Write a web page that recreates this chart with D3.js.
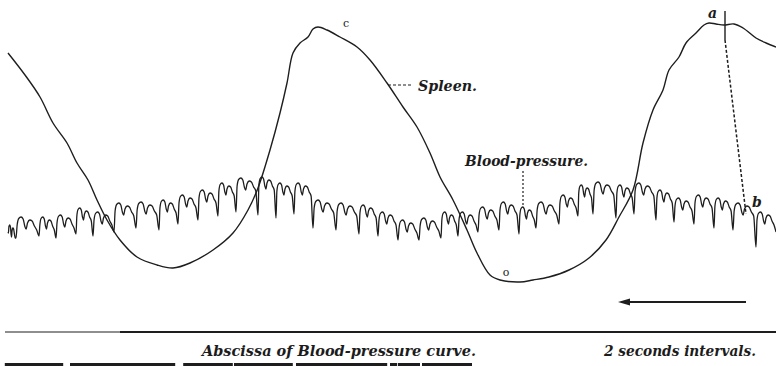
<!DOCTYPE html>
<html>
<head>
<meta charset="utf-8">
<script src="https://cdn.jsdelivr.net/npm/d3@7/dist/d3.min.js"></script>
<style>
  html, body { margin: 0; padding: 0; background: #fff; }
  svg { display: block; }
  .lbl { font-family: "DejaVu Serif", "Liberation Serif", serif; font-style: italic; font-weight: bold; fill: #1c1c1c; }
</style>
</head>
<body>
<svg id="chart" width="776" height="366"></svg>
<script>
// ---- Spleen volume tracing: time (s) and volume (arbitrary units)
const spleenTime = [0.20,0.625,1.00,1.325,1.675,1.925,2.20,2.425,2.675,3.00,3.425,3.925,4.325,4.75,5.325,5.825,6.20,6.45,6.75,7.00,7.175,7.325,7.50,7.70,7.825,7.95,8.175,8.50,8.925,9.25,9.675,10.075,10.425,10.75,11.0,11.325,11.675,11.925,12.25,12.5,13.0,13.325,13.725,14.225,14.725,15.15,15.475,15.825,16.075,16.325,16.575,16.725,16.975,17.15,17.40,17.60,17.725,17.90,18.10,18.35,18.575,18.90,19.15,19.40];
const spleenVolume = [24.7,22.5,20.3,17.7,15.7,13.7,12.0,10.0,8.0,6.0,4.3,3.5,3.2,3.7,5.0,6.7,9.0,11.2,15.0,18.7,21.7,24.7,25.7,26.3,27.1,27.3,27.0,26.3,25.3,24.0,21.7,19.3,17.3,14.7,12.3,10.0,7.0,4.7,2.5,2.0,1.8,2.0,2.3,3.0,4.2,6.0,8.3,11.0,15.7,19.0,21.0,23.0,24.3,25.7,26.7,27.5,27.7,27.6,27.5,27.6,27.2,26.2,25.7,25.3];

// ---- Blood-pressure tracing: one entry per heart beat
// beatTime: onset of each beat (foot of the upstroke), s
// beatPeak: systolic crest, beatFoot: lowest point before the upstroke
const beatTime = [0.20,0.40,0.975,1.40,1.90,2.325,2.85,3.40,3.975,4.45,4.95,5.45,5.90,6.45,6.90,7.35,7.825,8.40,8.975,9.45,9.95,10.475,11.025,11.45,11.95,12.475,12.975,13.40,13.975,14.45,14.825,15.40,15.85,16.40,16.85,17.35,17.85,18.325,18.90,19.40];
const beatPeak = [75,83,83,85,92,88,97,98,100,105,110,117,122,123,117,117,100,97,95,88,80,82,88,88,93,98,93,98,105,115,118,115,117,110,102,105,102,97,88,82];
const beatFoot = [68,62,64,62,66,64,68,72,70,76,80,84,88,85,82,86,72,70,66,64,60,60,62,64,68,70,66,72,76,84,86,82,86,80,78,76,72,70,53,68];

// ---- Text
const spleenLabel = "Spleen.";
const bpLabel = "Blood-pressure.";
const abscissaLabel = "Abscissa of Blood-pressure curve.";
const intervalLabel = "2 seconds intervals.";
// time-marker bars (start, end in s)
const markStart = [0.12,1.75,4.58,5.0,5.85,7.4,9.75,9.95,10.55];
const markEnd   = [1.58,4.38,5.0,5.82,7.32,9.68,9.93,10.5,11.8];

const svg = d3.select("#chart");
const ink = "#1e1e1e";

const x = d3.scaleLinear().domain([0, 19.4]).range([0, 776]);
const ySpleen = d3.scaleLinear().domain([0, 30]).range([300, 0]);
const yBP = d3.scaleLinear().domain([60, 130]).range([240, 170]);

// spleen curve
const spleenPts = spleenTime.map((t, i) => [t, spleenVolume[i]]);
svg.append("path")
  .datum(spleenPts)
  .attr("fill", "none")
  .attr("stroke", ink)
  .attr("stroke-width", 1.4)
  .attr("d", d3.line().x(d => x(d[0])).y(d => ySpleen(d[1])).curve(d3.curveCatmullRom.alpha(0.5)));

// blood-pressure curve: each beat has a sharp upstroke, rounded crest,
// dicrotic notch and a secondary wave before the next foot
const pulseShape = [
  [0.05, 8], [0.12, 1.5], [0.22, 0], [0.31, 2], [0.38, 9], [0.44, 12],
  [0.50, 6], [0.60, 3], [0.70, 4], [0.80, 9], [0.90, 13]
];
const bpPts = [];
for (let i = 0; i < beatTime.length; i++) {
  const t0 = beatTime[i];
  bpPts.push([t0, beatFoot[i]]);
  if (i < beatTime.length - 1) {
    const period = beatTime[i + 1] - t0;
    pulseShape.forEach(([f, drop]) => bpPts.push([t0 + f * period, beatPeak[i] - drop]));
  }
}
svg.append("path")
  .datum(bpPts)
  .attr("fill", "none")
  .attr("stroke", ink)
  .attr("stroke-width", 1.3)
  .attr("stroke-linejoin", "round")
  .attr("d", d3.line().x(d => x(d[0])).y(d => yBP(d[1])).curve(d3.curveMonotoneX));

// labels with leaders
svg.append("line").attr("x1", 388).attr("x2", 413).attr("y1", 85).attr("y2", 85)
  .attr("stroke", ink).attr("stroke-width", 1.2).attr("stroke-dasharray", "3,2");
svg.append("text").attr("class", "lbl").attr("x", 418).attr("y", 91)
  .attr("font-size", 14).attr("textLength", 59).attr("lengthAdjust", "spacingAndGlyphs").text(spleenLabel);

svg.append("text").attr("class", "lbl").attr("x", 465).attr("y", 166)
  .attr("font-size", 14).attr("textLength", 123).attr("lengthAdjust", "spacingAndGlyphs").text(bpLabel);
svg.append("line").attr("x1", 523).attr("x2", 523).attr("y1", 171).attr("y2", 205)
  .attr("stroke", ink).attr("stroke-width", 1.2).attr("stroke-dasharray", "2,2");

// reference letters
svg.append("text").attr("x", 346).attr("y", 27).attr("text-anchor", "middle")
  .attr("font-family", "DejaVu Serif").attr("font-size", 11).attr("fill", ink).text("c");
svg.append("text").attr("x", 506).attr("y", 276).attr("text-anchor", "middle")
  .attr("font-family", "DejaVu Serif").attr("font-size", 11).attr("fill", ink).text("o");
svg.append("text").attr("class", "lbl").attr("x", 708).attr("y", 18)
  .attr("font-size", 14).attr("font-weight", "normal").text("a");
svg.append("text").attr("class", "lbl").attr("x", 752).attr("y", 207)
  .attr("font-size", 14).attr("font-weight", "normal").text("b");

// a–b marker: vertical tick and dotted connector
svg.append("line").attr("x1", 725).attr("x2", 725).attr("y1", 11).attr("y2", 40)
  .attr("stroke", ink).attr("stroke-width", 1.4);
svg.append("line").attr("x1", 725).attr("x2", 746).attr("y1", 40).attr("y2", 214)
  .attr("stroke", ink).attr("stroke-width", 1.5).attr("stroke-dasharray", "3,2");

// direction arrow
svg.append("line").attr("x1", 626).attr("x2", 746).attr("y1", 302).attr("y2", 302)
  .attr("stroke", ink).attr("stroke-width", 1.8);
svg.append("path").attr("d", "M618,302 L630,298.5 L630,305.5 Z").attr("fill", ink);

// abscissa line
svg.append("line").attr("x1", 5).attr("x2", 120).attr("y1", 332).attr("y2", 332)
  .attr("stroke", ink).attr("stroke-width", 1.2);
svg.append("line").attr("x1", 120).attr("x2", 776).attr("y1", 332).attr("y2", 332)
  .attr("stroke", ink).attr("stroke-width", 2);

svg.append("text").attr("class", "lbl").attr("x", 202).attr("y", 356)
  .attr("font-size", 14).attr("textLength", 274).attr("lengthAdjust", "spacingAndGlyphs").text(abscissaLabel);
svg.append("text").attr("class", "lbl").attr("x", 604).attr("y", 356)
  .attr("font-size", 14).attr("textLength", 152).attr("lengthAdjust", "spacingAndGlyphs").text(intervalLabel);

// time-marker bars
svg.selectAll("rect.mark").data(markStart).enter().append("rect")
  .attr("class", "mark")
  .attr("x", d => x(d))
  .attr("width", (d, i) => x(markEnd[i]) - x(d))
  .attr("y", 363).attr("height", 3)
  .attr("fill", ink);
</script>
</body>
</html>
